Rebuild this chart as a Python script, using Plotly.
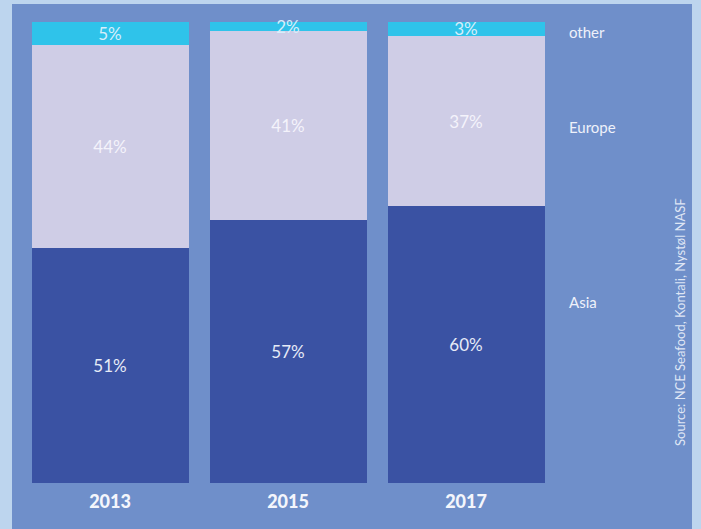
import plotly.graph_objects as go

years = ["2013", "2015", "2017"]
asia = [51, 57, 60]
europe = [44, 41, 37]
other = [5, 2, 3]
series_names = ["Asia", "Europe", "other"]
source_text = "Source: NCE Seafood, Kontali, Nystøl NASF"

W, H = 701, 529
L, R, T, B = 21, 146, 22, 46
pw, ph = W - L - R, H - T - B

def px_x(x):
    return (x - L) / pw

def px_y(y):
    return (H - B - y) / ph

font_family = "Lato, 'Open Sans', sans-serif"

fig = go.Figure()
fig.add_trace(go.Bar(
    x=years, y=asia, name=series_names[0],
    marker=dict(color="#3a52a3", line=dict(width=0)),
    text=[f"{v}%" for v in asia], textposition="inside", insidetextanchor="middle",
    textfont=dict(color="#e6ebf7", size=17, family=font_family),
))
fig.add_trace(go.Bar(
    x=years, y=europe, name=series_names[1],
    marker=dict(color="#cfcde6", line=dict(width=0)),
    text=[f"{v}%" for v in europe], textposition="inside", insidetextanchor="middle",
    textfont=dict(color="#f4f3fb", size=17, family=font_family),
))
fig.add_trace(go.Bar(
    x=years, y=other, name=series_names[2],
    marker=dict(color="#2fc3ea", line=dict(width=0)),
    text=[f"{v}%" for v in other], textposition="inside", insidetextanchor="middle",
    textfont=dict(color="#d6eefb", size=17, family=font_family),
    constraintext="none", cliponaxis=False,
))

# panel background
fig.add_shape(type="rect", xref="paper", yref="paper",
              x0=px_x(12), x1=px_x(692), y0=px_y(540), y1=px_y(4),
              fillcolor="#6f8fca", line=dict(width=0), layer="below")

# right-side series labels
label_y = [302, 127, 32]
for name, yy in zip(series_names, label_y):
    fig.add_annotation(xref="paper", yref="paper", x=px_x(567), y=px_y(yy),
                       text=name, showarrow=False, xanchor="left", yanchor="middle",
                       font=dict(color="#eef1fa", size=15, family=font_family))

fig.add_annotation(xref="paper", yref="paper", x=px_x(680), y=px_y(322),
                   text=source_text, showarrow=False, textangle=-90,
                   xanchor="center", yanchor="middle",
                   font=dict(color="#dfe6f5", size=13, family=font_family))

fig.update_layout(
    width=W, height=H,
    margin=dict(l=L, r=R, t=T, b=B),
    barmode="stack", bargap=0.118,
    paper_bgcolor="#bdd5ee", plot_bgcolor="rgba(0,0,0,0)",
    showlegend=False,
    uniformtext=dict(mode=False),
)
fig.update_xaxes(range=[-0.5, 2.5], showgrid=False, zeroline=False, showline=False,
                 ticks="", ticklabelstandoff=6,
                 tickfont=dict(color="#f4f6fc", size=18, family="Lato Black, Lato, sans-serif", weight="bold"))
fig.update_yaxes(range=[0, 100], visible=False, showgrid=False, zeroline=False)

fig.write_html("out.html")
